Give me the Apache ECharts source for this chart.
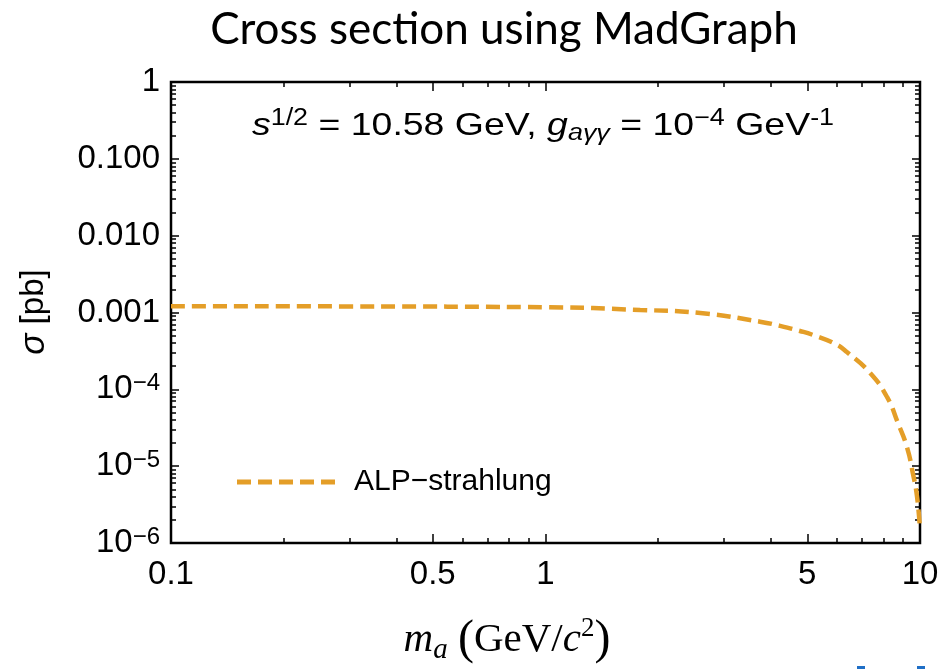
<!DOCTYPE html>
<html>
<head>
<meta charset="utf-8">
<script src="https://cdn.jsdelivr.net/npm/echarts@6/dist/echarts.min.js"></script>
<style>
  html, body { margin: 0; padding: 0; background: #fff; }
  #chart { width: 945px; height: 669px; }
</style>
</head>
<body>
<div id="chart"></div>
<script>
// ALP-strahlung cross section vs. ALP mass (MadGraph)
const massValues = [0.1, 0.3, 1.0, 1.79, 2.59, 3.74, 4.23, 4.78, 5.18, 5.93, 6.38, 7.36, 8.17, 8.73, 9.23, 9.57, 9.82, 10.0];
const sigmaValues = [1.21e-3, 1.2e-3, 1.17e-3, 1.08e-3, 9.85e-4, 7.6e-4, 6.7e-4, 5.75e-4, 5.1e-4, 3.92e-4, 3.06e-4, 1.63e-4, 7.9e-5, 3.65e-5, 1.77e-5, 8.1e-6, 4.0e-6, 1.5e-6];

// axis ticks and labels
const xMajorTicks = [0.1, 0.5, 1, 5, 10];
const xMinorTicks = [0.2, 0.3, 0.4, 0.6, 0.7, 0.8, 0.9, 2, 3, 4, 6, 7, 8, 9];
const xTickLabels = ['0.1', '0.5', '1', '5', '10'];
const yMajorTicks = [1e-6, 1e-5, 1e-4, 1e-3, 1e-2, 1e-1, 1];
const yTickLabels = ['10{sup|−6}', '10{sup|−5}', '10{sup|−4}', '0.001', '0.010', '0.100', '1'];
const yMinorTicks = [];
[1e-6, 1e-5, 1e-4, 1e-3, 1e-2, 1e-1].forEach(function (d) {
  [2, 3, 4, 5, 6, 7, 8, 9].forEach(function (m) { yMinorTicks.push(+(m * d).toPrecision(3)); });
});

const seriesName = 'ALP−strahlung';
const lineColor = '#E49E28';
const axisFont = 'Liberation Sans, Arial, Helvetica, sans-serif';
const serifFont = 'Liberation Serif, DejaVu Serif, serif';

const chart = echarts.init(document.getElementById('chart'), null, { renderer: 'canvas' });

function findIndex(arr, v) {
  for (let i = 0; i < arr.length; i++) {
    if (Math.abs(Math.log10(arr[i]) - Math.log10(v)) < 1e-6) return i;
  }
  return -1;
}

function xAxisDef(position, ticks, len, labels) {
  return {
    type: 'log', logBase: 10, min: 0.1, max: 10, position: position,
    axisLine: { show: false },
    splitLine: { show: false },
    axisTick: { show: true, inside: true, length: len, customValues: ticks,
      lineStyle: { color: '#000', width: 1.5 } },
    axisLabel: labels ? {
      show: true, customValues: xMajorTicks, margin: 15,
      fontFamily: axisFont, fontSize: 33, color: '#000',
      formatter: function (v) { return xTickLabels[findIndex(xMajorTicks, v)]; }
    } : { show: false }
  };
}

function yAxisDef(position, ticks, len, labels) {
  return {
    type: 'log', logBase: 10, min: 1e-6, max: 1, position: position,
    axisLine: { show: false },
    splitLine: { show: false },
    axisTick: { show: true, inside: true, length: len, customValues: ticks,
      lineStyle: { color: '#000', width: 1.5 } },
    axisLabel: labels ? {
      show: true, customValues: yMajorTicks, margin: 11,
      fontFamily: axisFont, fontSize: 33, color: '#000', lineHeight: 36,
      rich: { sup: { fontFamily: axisFont, fontSize: 24, color: '#000', verticalAlign: 'top', lineHeight: 36, padding: [0, 0, 10, 0] } },
      formatter: function (v) { return yTickLabels[findIndex(yMajorTicks, v)]; }
    } : { show: false }
  };
}

// five dashes matching the series dash pattern
const legendDashIcon = 'path://M0,0h14v5h-14z M21,0h14v5h-14z M42,0h14v5h-14z M63,0h14v5h-14z M84,0h14v5h-14z';

const option = {
  animation: false,
  backgroundColor: '#fff',
  grid: { left: 171, right: 25, top: 82, bottom: 126, show: true,
    borderColor: '#000', borderWidth: 2.5, backgroundColor: 'transparent' },
  xAxis: [
    xAxisDef('bottom', xMajorTicks, 9, true),
    xAxisDef('bottom', xMinorTicks, 5, false),
    xAxisDef('top', xMajorTicks, 9, false),
    xAxisDef('top', xMinorTicks, 5, false)
  ],
  yAxis: [
    yAxisDef('left', yMajorTicks, 8, true),
    yAxisDef('left', yMinorTicks, 5, false),
    yAxisDef('right', yMajorTicks, 8, false),
    yAxisDef('right', yMinorTicks, 5, false)
  ],
  legend: {
    show: true, left: 232, top: 462, orient: 'vertical',
    itemWidth: 98, itemHeight: 5, itemGap: 0,
    icon: legendDashIcon,
    data: [{ name: seriesName }],
    itemStyle: { color: lineColor },
    textStyle: { fontFamily: axisFont, fontSize: 30, color: '#000', padding: [0, 0, 0, 14] }
  },
  series: [{
    name: seriesName,
    type: 'line',
    xAxisIndex: 0, yAxisIndex: 0,
    data: massValues.map(function (m, i) { return [m, sigmaValues[i]]; }),
    showSymbol: false, symbol: 'none',
    smooth: 0.5,
    lineStyle: { color: lineColor, width: 4.5, type: [14, 7] },
    itemStyle: { color: lineColor }
  }],
  graphic: [
    { type: 'text', x: 504, y: 30,
      style: { text: 'Cross section using MadGraph', fontFamily: 'Lato, Carlito, sans-serif',
        fontSize: 44, fill: '#000', align: 'center', verticalAlign: 'middle' } },
    { type: 'text', x: 543, y: 126, scaleX: 1.17,
      style: {
        text: '{i|s}{sup|1/2} = 10.58 GeV, {i|g}{sub|aγγ} = 10{sup|−4} GeV{sup|-1}',
        fontFamily: axisFont, fontSize: 32, fill: '#000', align: 'center', verticalAlign: 'middle',
        lineHeight: 38,
        rich: {
          i: { fontFamily: axisFont, fontSize: 32, fontStyle: 'italic', lineHeight: 38 },
          sup: { fontFamily: axisFont, fontSize: 23, verticalAlign: 'top', lineHeight: 38, padding: [0, 0, 6, 0] },
          sub: { fontFamily: axisFont, fontSize: 23, fontStyle: 'italic', verticalAlign: 'bottom', lineHeight: 38, padding: [8, 0, 0, 0] }
        }
      } },
    { type: 'text', x: 34, y: 312, rotation: Math.PI / 2,
      style: { text: '{i|σ} [pb]', fontFamily: axisFont, fontSize: 33, fill: '#000',
        align: 'center', verticalAlign: 'middle',
        rich: { i: { fontFamily: axisFont, fontSize: 35, fontStyle: 'italic' } } } },
    { type: 'text', x: 507, y: 640,
      style: { text: '{i|m}{sub|a} {p|(}GeV/{i|c}{sup|2}{p|)}', fontFamily: serifFont,
        fontSize: 41, fill: '#000', align: 'center', verticalAlign: 'middle', lineHeight: 50,
        rich: {
          i: { fontFamily: serifFont, fontSize: 41, fontStyle: 'italic', lineHeight: 50 },
          sub: { fontFamily: serifFont, fontSize: 29, fontStyle: 'italic', verticalAlign: 'bottom', lineHeight: 50, padding: [10, 0, 0, 0] },
          sup: { fontFamily: serifFont, fontSize: 27, verticalAlign: 'top', lineHeight: 50, padding: [0, 0, 6, 0] },
          p: { fontFamily: serifFont, fontSize: 48, lineHeight: 50 }
        } } },
    { type: 'rect', shape: { x: 857, y: 666, width: 8, height: 3 }, style: { fill: '#1F6FC6' } },
    { type: 'rect', shape: { x: 917, y: 666, width: 8, height: 3 }, style: { fill: '#1F6FC6' } }
  ]
};

chart.setOption(option);
</script>
</body>
</html>
